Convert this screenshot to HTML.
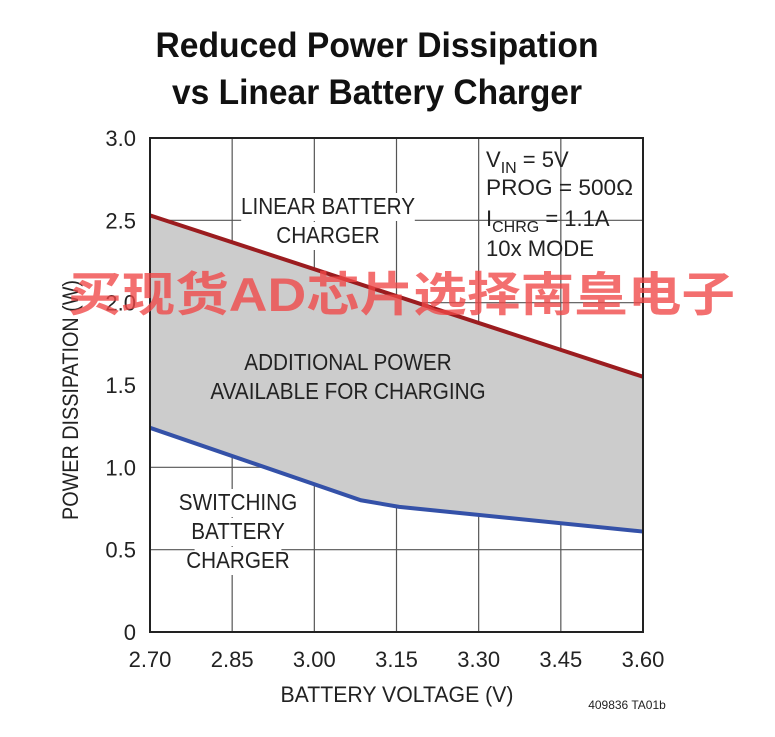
<!DOCTYPE html>
<html><head><meta charset="utf-8"><style>
body{margin:0;background:#fff;width:775px;height:737px;overflow:hidden}
svg{display:block}
text{font-family:"Liberation Sans","Noto Sans CJK SC",sans-serif}
</style></head><body>
<svg id="chart" width="775" height="737" viewBox="0 0 775 737">
<g font-weight="bold" font-size="35" text-anchor="middle" fill="#111">
<text x="377" y="57" textLength="443" lengthAdjust="spacingAndGlyphs">Reduced Power Dissipation</text>
<text x="377" y="104" textLength="410" lengthAdjust="spacingAndGlyphs">vs Linear Battery Charger</text>
</g>
<g id="grid"></g>
<path id="fill" fill="#cccccc"/>
<g id="labels" font-size="23" fill="#222" text-anchor="middle"></g>
<path id="linear" fill="none" stroke="#9b1c1f" stroke-width="4"/>
<path id="switching" fill="none" stroke="#3451a8" stroke-width="4"/>
<rect x="150" y="138" width="493" height="494" fill="none" stroke="#222" stroke-width="2"/>
<g id="ticks" font-size="22" fill="#222"></g>
<text x="397" y="702" font-size="22" text-anchor="middle" fill="#222" textLength="233" lengthAdjust="spacingAndGlyphs">BATTERY VOLTAGE (V)</text>
<text x="0" y="0" font-size="22" text-anchor="middle" fill="#222" transform="translate(78,400) rotate(-90)" textLength="240" lengthAdjust="spacingAndGlyphs">POWER DISSIPATION (W)</text>
<text x="627" y="709" font-size="12" text-anchor="middle" fill="#222">409836 TA01b</text>
<g font-size="22" fill="#222">
<text x="486" y="167">V<tspan font-size="16" dy="6">IN</tspan><tspan dy="-6"> = 5V</tspan></text>
<text x="486" y="195" textLength="147" lengthAdjust="spacingAndGlyphs">PROG = 500Ω</text>
<text x="486" y="226">I<tspan font-size="16" dy="6">CHRG</tspan><tspan dy="-6"> = 1.1A</tspan></text>
<text x="486" y="256" textLength="108" lengthAdjust="spacingAndGlyphs">10x MODE</text>
</g>
<text x="68" y="311" font-size="47" font-weight="bold" fill="rgba(240,70,70,0.78)" textLength="667" lengthAdjust="spacingAndGlyphs">买现货AD芯片选择南皇电子</text>
</svg>
<script>
const xTicks=[2.70,2.85,3.00,3.15,3.30,3.45,3.60];
const yTicks=[0,0.5,1.0,1.5,2.0,2.5,3.0];
const xTickLabels=["2.70","2.85","3.00","3.15","3.30","3.45","3.60"];
const yTickLabels=["0","0.5","1.0","1.5","2.0","2.5","3.0"];
const linearV=[2.70,3.60];
const linearP=[2.53,1.55];
const switchV=[2.70,3.085,3.155,3.60];
const switchP=[1.24,0.80,0.76,0.61];
const X=v=>150+(v-2.70)/0.9*493;
const Y=p=>632-p/3*494;
const NS="http://www.w3.org/2000/svg";
const grid=document.getElementById('grid');
xTicks.forEach(v=>{const l=document.createElementNS(NS,'line');


l.setAttribute('x1',X(v));l.setAttribute('x2',X(v));l.setAttribute('y1',138);l.setAttribute('y2',632);l.setAttribute('stroke','#555');l.setAttribute('stroke-width','1.2');grid.appendChild(l);});
yTicks.forEach(v=>{const l=document.createElementNS(NS,'line');


l.setAttribute('x1',150);l.setAttribute('x2',643);l.setAttribute('y1',Y(v));l.setAttribute('y2',Y(v));l.setAttribute('stroke','#555');l.setAttribute('stroke-width','1.2');grid.appendChild(l);});
const lin=linearV.map((v,i)=>[X(v),Y(linearP[i])]);
const sw=switchV.map((v,i)=>[X(v),Y(switchP[i])]);
document.getElementById('linear').setAttribute('d','M'+lin.map(p=>p.join(',')).join('L'));
document.getElementById('switching').setAttribute('d','M'+sw.map(p=>p.join(',')).join('L'));
document.getElementById('fill').setAttribute('d','M'+lin.map(p=>p.join(',')).join('L')+'L'+sw.slice().reverse().map(p=>p.join(',')).join('L')+'Z');
const labels=document.getElementById('labels');
function lab(lines,x,y0,bg,name){const g=document.createElementNS(NS,'g');


lines.forEach((t,i)=>{const y=y0+i*29;
if(bg){const r=document.createElementNS(NS,'rect');r.setAttribute('x',x-t.length*6.2);r.setAttribute('y',y-21);r.setAttribute('width',t.length*12.4);r.setAttribute('height',28);r.setAttribute('fill',bg);g.appendChild(r);}
const tx=document.createElementNS(NS,'text');tx.setAttribute('x',x);tx.setAttribute('y',y);tx.textContent=t;tx.setAttribute('transform','scale(0.9,1)');tx.setAttribute('transform-origin',x+' 0');g.appendChild(tx);});
labels.appendChild(g);}
lab(["LINEAR BATTERY","CHARGER"],328,214,'#fff','linear-charger-label');
lab(["ADDITIONAL POWER","AVAILABLE FOR CHARGING"],348,370,null,'additional-power-label');
lab(["SWITCHING","BATTERY","CHARGER"],238,510,'#fff','switching-charger-label');
const ticks=document.getElementById('ticks');
xTicks.forEach((v,i)=>{const t=document.createElementNS(NS,'text');


t.setAttribute('x',X(v));t.setAttribute('y',667);t.setAttribute('text-anchor','middle');t.textContent=xTickLabels[i];ticks.appendChild(t);});
yTicks.forEach((v,i)=>{const t=document.createElementNS(NS,'text');


t.setAttribute('x',136);t.setAttribute('y',Y(v)+8);t.setAttribute('text-anchor','end');t.textContent=yTickLabels[i];ticks.appendChild(t);});
</script>
</body></html>
